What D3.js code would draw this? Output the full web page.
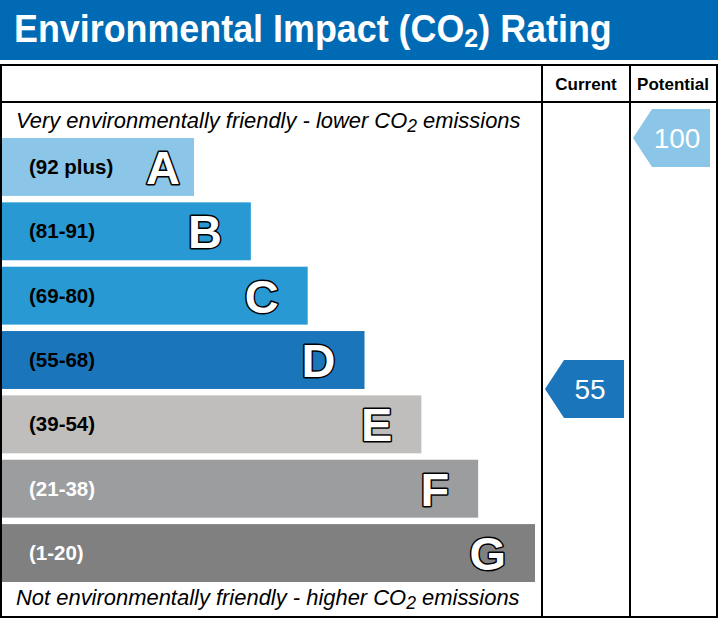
<!DOCTYPE html>
<html>
<head>
<meta charset="utf-8">
<script src="https://cdnjs.cloudflare.com/ajax/libs/d3/7.8.5/d3.min.js"></script>
<style>
  body { margin: 0; background: #fff; }
  svg { display: block; font-family: "Liberation Sans", Arial, sans-serif; }
</style>
</head>
<body>
<div id="chart"></div>
<script>
// chart data
const ratings = ["A", "B", "C", "D", "E", "F", "G"];
const bandLabels = ["(92 plus)", "(81-91)", "(69-80)", "(55-68)", "(39-54)", "(21-38)", "(1-20)"];
const bandLo = [92, 81, 69, 55, 39, 21, 1];
const bandHi = [100, 91, 80, 68, 54, 38, 20];
const barColours = ["#8bc5e7", "#2999d4", "#2999d4", "#1a75ba", "#bfbebc", "#9c9d9f", "#808080"];
const labelColours = ["#000", "#000", "#000", "#000", "#000", "#fff", "#fff"];
const columns = ["Current", "Potential"];
const scores = [55, 100];
const scoreColours = ["#1a75ba", "#8bc5e7"];

const W = 718, H = 619;

const svg = d3.select("#chart").append("svg")
    .attr("width", W)
    .attr("height", H);

//fit a text element to a given width by scaling its font size
function fitWidth(sel, w) {
    let len = sel.node().getComputedTextLength();
    let fs = parseFloat(sel.attr("font-size"));
    sel.attr("font-size", fs * w / len);
}

//squeeze a text element horizontally to a given width, keeping its height
function squeezeWidth(sel, w) {
    let len = sel.node().getComputedTextLength();
    let x0 = +sel.attr("x");
    sel.attr("transform", `translate(${x0},0) scale(${w / len},1) translate(${-x0},0)`);
}

//title band
svg.append("rect")
    .attr("x", 0).attr("y", 0)
    .attr("width", W).attr("height", 60)
    .attr("fill", "#006bb4");

let title = svg.append("text")
    .attr("x", 14).attr("y", 42)
    .attr("font-size", 38)
    .attr("font-weight", "bold")
    .attr("fill", "#fff");
title.append("tspan").text("Environmental Impact (CO");
title.append("tspan").attr("font-size", "70%").attr("dy", 5).text("2");
title.append("tspan").attr("dy", -5).text(") Rating");
squeezeWidth(title, 598);

//table frame
const colX = [542, 630, 716];
const tableTop = 65, headBottom = 102, tableBottom = 617;

//scales
const y = d3.scaleBand()
    .domain(ratings)
    .range([138, 582])
    .paddingInner(0.1)
    .paddingOuter(0);

const barEnd = d3.scaleLinear()
    .domain([0, ratings.length - 1])
    .range([194, 535]);

//score -> vertical position, piecewise inside each band
let dom = [], rng = [];
for (let i = ratings.length - 1; i >= 0; i--) {
    dom.push(bandLo[i], bandHi[i]);
    rng.push(y(ratings[i]) + y.bandwidth(), y(ratings[i]));
}
const scoreY = d3.scaleLinear().domain(dom).range(rng).clamp(true);

//bars
let rows = svg.append("g").selectAll("g")
    .data(ratings)
    .join("g");

rows.append("rect")
    .attr("x", 2)
    .attr("y", d => y(d))
    .attr("width", (d, i) => barEnd(i) - 2)
    .attr("height", y.bandwidth())
    .attr("fill", (d, i) => barColours[i]);

rows.append("text")
    .attr("x", 29)
    .attr("y", d => y(d) + y.bandwidth() / 2 + 7)
    .attr("font-size", 20.5)
    .attr("font-weight", "bold")
    .attr("fill", (d, i) => labelColours[i])
    .text((d, i) => bandLabels[i]);

rows.append("text")
    .attr("x", (d, i) => barEnd(i) - (i === 0 ? 14 : 29))
    .attr("y", d => y(d) + y.bandwidth() / 2 + 17)
    .attr("text-anchor", "end")
    .attr("font-size", 47)
    .attr("font-weight", "bold")
    .attr("fill", "#fff")
    .attr("stroke", "#000")
    .attr("stroke-width", 3)
    .attr("stroke-linejoin", "round")
    .attr("paint-order", "stroke")
    .text(d => d);

//top and bottom captions
let topNote = svg.append("text")
    .attr("x", 16).attr("y", 128)
    .attr("font-size", 20)
    .attr("font-style", "italic");
topNote.append("tspan").text("Very environmentally friendly - lower CO");
topNote.append("tspan").attr("font-size", "80%").attr("dy", 4).text("2");
topNote.append("tspan").attr("dy", -4).text(" emissions");
fitWidth(topNote, 505);

let botNote = svg.append("text")
    .attr("x", 16).attr("y", 605)
    .attr("font-size", 20)
    .attr("font-style", "italic");
botNote.append("tspan").text("Not environmentally friendly - higher CO");
botNote.append("tspan").attr("font-size", "80%").attr("dy", 4).text("2");
botNote.append("tspan").attr("dy", -4).text(" emissions");
fitWidth(botNote, 504);

//score arrows
scores.forEach(function(s, i) {
    let left = colX[i], right = colX[i + 1];
    let cy = scoreY(s);
    let h = y.bandwidth() / 2;
    let tip = left + 3, flat = left + 22, end = right - 6;
    svg.append("path")
        .attr("d", `M${tip},${cy} L${flat},${cy - h} L${end},${cy - h} L${end},${cy + h} L${flat},${cy + h} Z`)
        .attr("fill", scoreColours[i]);
    svg.append("text")
        .attr("x", (flat + end) / 2 - 4)
        .attr("y", cy + 10)
        .attr("text-anchor", "middle")
        .attr("font-size", 28)
        .attr("fill", "#fff")
        .text(s);
});

//column headers
columns.forEach(function(c, i) {
    svg.append("text")
        .attr("x", (colX[i] + colX[i + 1]) / 2)
        .attr("y", 90)
        .attr("text-anchor", "middle")
        .attr("font-size", 17)
        .attr("font-weight", "bold")
        .text(c);
});

//grid lines
let grid = svg.append("g")
    .attr("stroke", "#000")
    .attr("stroke-width", 2)
    .attr("fill", "none");

grid.append("rect")
    .attr("x", 1).attr("y", tableTop)
    .attr("width", W - 2).attr("height", tableBottom - tableTop);

grid.append("line")
    .attr("x1", 1).attr("x2", W - 1)
    .attr("y1", headBottom).attr("y2", headBottom);

colX.slice(0, 2).forEach(function(cx) {
    grid.append("line")
        .attr("x1", cx).attr("x2", cx)
        .attr("y1", tableTop).attr("y2", tableBottom);
});
</script>
</body>
</html>
